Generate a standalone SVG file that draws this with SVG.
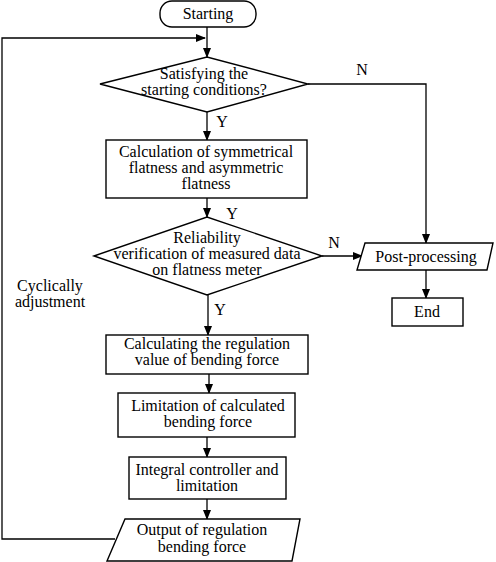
<svg xmlns="http://www.w3.org/2000/svg" width="496" height="562" viewBox="0 0 496 562">
<style>
.s{fill:#fff;stroke:#000;stroke-width:1.4}
.c{fill:none;stroke:#000;stroke-width:1.3}
text{font-family:'Liberation Serif','DejaVu Serif',serif;font-size:16px;fill:#000;text-anchor:middle}
</style>
<defs>
<marker id="ah" markerWidth="10" markerHeight="8" refX="9" refY="4" orient="auto" markerUnits="userSpaceOnUse">
<path d="M0,0 L10,4 L0,8 Z" fill="#000"/>
</marker>
</defs>
<rect width="496" height="562" fill="#fff"/>
<g id="connectors">
<path class="c" d="M207,27 V57" marker-end="url(#ah)"/>
<path class="c" d="M115,539 H2 V38 H205" marker-end="url(#ah)"/>
<path class="c" d="M207,112 V140" marker-end="url(#ah)"/>
<path class="c" d="M308,84 H426 V243" marker-end="url(#ah)"/>
<path class="c" d="M207,198 V217" marker-end="url(#ah)"/>
<path class="c" d="M322,256 H362" marker-end="url(#ah)"/>
<path class="c" d="M426,270 V298" marker-end="url(#ah)"/>
<path class="c" d="M208,295 V335" marker-end="url(#ah)"/>
<path class="c" d="M209,374 V393" marker-end="url(#ah)"/>
<path class="c" d="M207,437 V457" marker-end="url(#ah)"/>
<path class="c" d="M207,499 V519" marker-end="url(#ah)"/>
<text x="222" y="127">Y</text>
<text x="362" y="75">N</text>
<text x="232" y="219">Y</text>
<text x="334" y="248">N</text>
<text x="220" y="315">Y</text>
<text x="50" y="291">Cyclically</text>
<text x="50" y="307">adjustment</text>
</g>
<g id="start">
<rect class="s" x="160" y="1" width="96" height="26" rx="12"/>
<text x="208" y="19">Starting</text>
</g>
<g id="cond">
<polygon class="s" points="100,84 207,57 308,84 207,112"/>
<text x="204" y="79">Satisfying the</text>
<text x="204" y="95">starting conditions?</text>
</g>
<g id="calc-flat">
<rect class="s" x="106" y="140" width="201" height="58"/>
<text x="206" y="157">Calculation of symmetrical</text>
<text x="206" y="173">flatness and asymmetric</text>
<text x="206" y="189">flatness</text>
</g>
<g id="reliab">
<polygon class="s" points="94,256 207,217 322,256 207,295"/>
<text x="207" y="243">Reliability</text>
<text x="207" y="259">verification of measured data</text>
<text x="207" y="275">on flatness meter</text>
</g>
<g id="post">
<polygon class="s" points="365,243 493,243 487,270 357,270"/>
<text x="426" y="262">Post-processing</text>
</g>
<g id="end">
<rect class="s" x="392" y="298" width="71" height="28"/>
<text x="427" y="317">End</text>
</g>
<g id="calc-reg">
<rect class="s" x="106" y="335" width="202" height="39"/>
<text x="207" y="349">Calculating the regulation</text>
<text x="207" y="365">value of bending force</text>
</g>
<g id="limit">
<rect class="s" x="118" y="393" width="177" height="44"/>
<text x="208" y="411">Limitation of calculated</text>
<text x="208" y="427">bending force</text>
</g>
<g id="integral">
<rect class="s" x="129" y="457" width="157" height="42"/>
<text x="207" y="475">Integral controller and</text>
<text x="207" y="491">limitation</text>
</g>
<g id="output">
<polygon class="s" points="125,519 300,519 292,561 107,561"/>
<text x="202" y="535">Output of regulation</text>
<text x="202" y="552">bending force</text>
</g>
</svg>
